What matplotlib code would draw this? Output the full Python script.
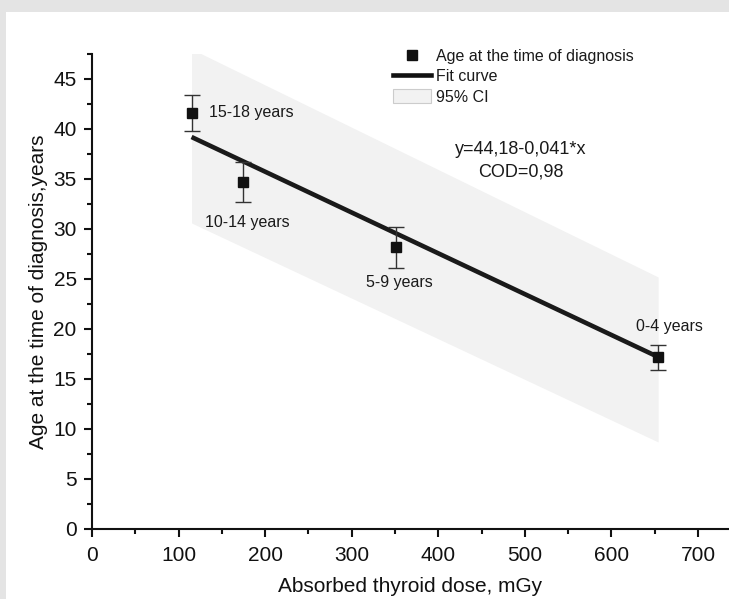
import matplotlib
matplotlib.use("Agg")
import matplotlib.pyplot as plt
from matplotlib.lines import Line2D
from matplotlib.patches import Patch, Rectangle
from matplotlib.ticker import MultipleLocator

plt.rcParams['font.family'] = ['Liberation Sans', 'DejaVu Sans']

# ---- data ----
dose = [115, 174, 351, 654]
age = [41.6, 34.7, 28.2, 17.2]
age_err = [1.8, 2.05, 2.05, 1.25]
group_labels = ["15-18 years", "10-14 years", "5-9 years", "0-4 years"]
label_offsets_px = [(17, 0), (5, -41), (4, -35), (11, 30)]

fit_x = [115, 654]
fit_y = [39.2, 17.2]
ci_x = [115, 654]
ci_low = [30.6, 8.7]
ci_high = [48.0, 25.2]

xticks = [0, 100, 200, 300, 400, 500, 600, 700]
yticks = [0, 5, 10, 15, 20, 25, 30, 35, 40, 45]

W, H = 729, 599
fig = plt.figure(figsize=(W / 100, H / 100), dpi=100, facecolor='#e4e4e4')
fig.patches.append(Rectangle((6 / W, 0), 1, (H - 12) / H, transform=fig.transFigure,
                             facecolor='white', edgecolor='none', zorder=-10))

ax_l, ax_r, ax_t, ax_b = 92, 729, 54, 529
ax = fig.add_axes([ax_l / W, (H - ax_b) / H, (ax_r - ax_l) / W, (ax_b - ax_t) / H])
ax.set_zorder(1)
ax.set_facecolor('none')
ax.set_xlim(0, (ax_r - ax_l) / 0.8657)
ax.set_ylim(0, 47.5)

ax.fill_between(ci_x, ci_low, ci_high, color='#f2f2f2', linewidth=0, zorder=1)
ax.plot(fit_x, fit_y, color='#1a1a1a', linewidth=3.3, solid_capstyle='butt', zorder=2)
ax.errorbar(dose, age, yerr=age_err, fmt='s', color='#111111', ecolor='#333333',
            markersize=7.5, elinewidth=1.0, capsize=5.5, capthick=1.0, zorder=3)

for x, y, lab, (dx, dy) in zip(dose, age, group_labels, label_offsets_px):
    ha = 'left' if dx > 10 and dy == 0 else 'center'
    ax.annotate(lab, (x, y), xytext=(dx * 0.72, dy * 0.72), textcoords='offset points',
                ha=ha, va='center', fontsize=11.5, color='#1a1a1a')

ax.text(0.673, 0.798, "y=44,18-0,041*x", transform=ax.transAxes, ha='center', va='center',
        fontsize=13, color='#1a1a1a')
ax.text(0.673, 0.752, "COD=0,98", transform=ax.transAxes, ha='center', va='center',
        fontsize=13, color='#1a1a1a')

for s in ['top', 'right']:
    ax.spines[s].set_visible(False)
for s in ['left', 'bottom']:
    ax.spines[s].set_linewidth(1.5)
    ax.spines[s].set_color('#111111')

ax.set_xticks(xticks)
ax.set_yticks(yticks)
ax.xaxis.set_minor_locator(MultipleLocator(50))
ax.yaxis.set_minor_locator(MultipleLocator(2.5))
ax.tick_params(which='major', direction='out', length=6, width=1.5, labelsize=15,
               color='#111111', labelcolor='#111111')
ax.tick_params(axis='x', which='major', pad=6)
ax.tick_params(axis='y', which='major', pad=5)
ax.tick_params(which='minor', direction='out', length=3.5, width=1.5, color='#111111')

ax.set_xlabel("Absorbed thyroid dose, mGy", fontsize=15, color='#111111', labelpad=9)
ax.set_ylabel("Age at the time of diagnosis,years", fontsize=15, color='#111111', labelpad=4)

handles = [
    Line2D([], [], marker='s', linestyle='none', color='#111111', markersize=7.5),
    Line2D([], [], color='#111111', linewidth=3.3),
    Patch(facecolor='#f2f2f2', edgecolor='#cccccc', linewidth=0.8),
]
leg = ax.legend(handles, ["Age at the time of diagnosis", "Fit curve", "95% CI"],
                loc='upper left', bbox_to_anchor=(0.4725, 1.012), frameon=False,
                fontsize=11.5, handlelength=2.4, handleheight=1.0, handletextpad=0.3,
                labelspacing=0.3, borderpad=0, borderaxespad=0)
for t in leg.get_texts():
    t.set_color('#1a1a1a')

fig.savefig("out.png", dpi=100, facecolor=fig.get_facecolor())
